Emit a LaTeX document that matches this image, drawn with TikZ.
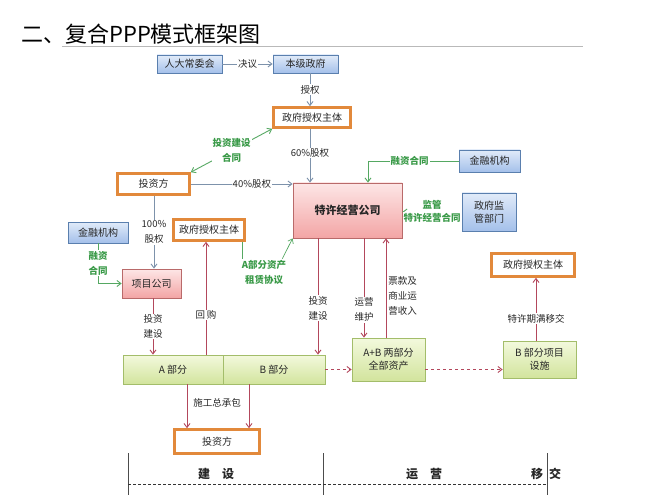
\documentclass[tikz,border=0pt]{standalone}
\usepackage{fontspec}
\setmainfont{Noto Sans CJK SC}
\usetikzlibrary{arrows.meta}
\definecolor{blueedge}{HTML}{5A7FAE}
\definecolor{bluetop}{HTML}{E1EBF9}
\definecolor{bluebot}{HTML}{A4C0EA}
\definecolor{orgedge}{HTML}{E2893B}
\definecolor{pinkedge}{HTML}{B96A6A}
\definecolor{pinktop}{HTML}{FDE6E6}
\definecolor{pinkbot}{HTML}{F3A5A5}
\definecolor{grnedge}{HTML}{A3BD6A}
\definecolor{grntop}{HTML}{F3F9DD}
\definecolor{grnbot}{HTML}{D2E49D}
\definecolor{eqline}{HTML}{7D92AB}
\definecolor{invline}{HTML}{B3475C}
\definecolor{conline}{HTML}{55A862}
\definecolor{congreen}{HTML}{3A9A48}
\tikzset{
  box/.style={inner sep=1pt, align=center, text=black!85, font=\fontsize{10}{13}\selectfont},
  bluebox/.style={box, draw=blueedge, top color=bluetop, bottom color=bluebot, line width=0.8pt},
  orgbox/.style={box, draw=orgedge, fill=white, line width=2.6pt},
  pinkbox/.style={box, draw=pinkedge, top color=pinktop, bottom color=pinkbot, line width=0.8pt},
  grnbox/.style={box, draw=grnedge, top color=grntop, bottom color=grnbot, line width=0.8pt},
  barb/.style={-{Straight Barb[length=4pt,width=6pt]}},
  eqarr/.style={barb, draw=eqline, line width=0.9pt},
  invarr/.style={barb, draw=invline, line width=0.9pt},
  conarr/.style={barb, draw=conline, line width=0.9pt},
  lab/.style={font=\fontsize{9.5}{15}\selectfont, align=center, inner sep=1pt, fill=white, text=black!85},
  glab/.style={lab, text=congreen, font=\fontsize{9.5}{15}\selectfont\bfseries},
  phase/.style={font=\fontsize{12}{14}\selectfont\bfseries, text=black!85}
}

\begin{document}
\begin{tikzpicture}[x=1pt, y=-1pt]
  \useasboundingbox[fill=white] (0,0) rectangle (667,500);
  \node[font=\fontsize{22}{26}\selectfont, anchor=west, inner sep=0pt] (title) at (21,34) {二、复合PPP模式框架图};
  \draw[gray!55, line width=1pt] (62,47) -- (583,47);

  \node[bluebox, minimum width=65pt, minimum height=18pt] (rd) at (189.5,64) {人大常委会};
  \node[bluebox, minimum width=65pt, minimum height=18pt] (bj) at (305.5,64) {本级政府};
  \node[orgbox, minimum width=77pt, minimum height=20pt] (zf1) at (312,117.5) {政府授权主体};
  \node[orgbox, minimum width=72pt, minimum height=21pt] (tz1) at (153.5,184) {投资方};
  \node[pinkbox, minimum width=109pt, minimum height=55pt, font=\fontsize{11}{13}\selectfont\bfseries] (tx) at (347.5,210.5) {特许经营公司};
  \node[bluebox, minimum width=61pt, minimum height=22pt] (jr1) at (489.5,161) {金融机构};
  \node[bluebox, minimum width=54pt, minimum height=38pt] (jg) at (489,212) {政府监\\管部门};
  \node[bluebox, minimum width=60pt, minimum height=21pt] (jr2) at (98,232.5) {金融机构};
  \node[orgbox, minimum width=71pt, minimum height=21pt] (zf2) at (209,230) {政府授权主体};
  \node[pinkbox, minimum width=59pt, minimum height=29pt] (xm) at (151.5,283.5) {项目公司};
  \node[grnbox, minimum width=100pt, minimum height=29pt] (pa) at (173,369.5) {A 部分};
  \node[grnbox, minimum width=102pt, minimum height=29pt] (pb) at (274,369.5) {B 部分};
  \node[grnbox, minimum width=73pt, minimum height=43pt] (qb) at (388.5,359.5) {A+B 两部分\\全部资产};
  \node[grnbox, minimum width=73pt, minimum height=37pt] (bs) at (539.5,359.5) {B 部分项目\\设施};
  \node[orgbox, minimum width=83pt, minimum height=23pt] (zf3) at (533,265) {政府授权主体};
  \node[orgbox, minimum width=85pt, minimum height=24pt] (tz2) at (217,441.5) {投资方};

  \draw[eqarr] (rd) -- node[lab]{决议} (bj);
  \draw[eqarr] ([xshift=4.5pt]bj.south) -- node[lab]{授权} ([xshift=-2pt]zf1.north);
  \draw[eqarr] ([xshift=-2pt]zf1.south) -- node[lab, pos=0.45]{60\%股权} ([xshift=-37.5pt]tx.north);
  \draw[conarr, {Straight Barb[length=4pt,width=6pt]}-{Straight Barb[length=4pt,width=6pt]}] (tz1.north east) -- node[glab]{投资建设\\合同} (zf1.south west);
  \draw[eqarr] (tz1.east) -- node[lab, pos=0.6]{40\%股权} (tz1.east -| tx.west);
  \draw[conarr] (jr1.west) -| node[glab, pos=0.27]{融资合同} ([xshift=20.5pt]tx.north);
  \draw[conarr] (jg.west) -- node[glab, above=1pt]{监管} node[glab, below=0pt]{特许经营合同} (jg.west -| tx.east);
  \draw[conarr] (jr2.south) |- node[glab, pos=0.25]{融资\\合同} (xm.west);
  \draw[eqarr] ([xshift=0.5pt]tz1.south) -- node[lab]{100\%\\股权} ([xshift=2.5pt]xm.north);

  \node[glab, fill=none] (zl) at (264,272) {A部分资产\\租赁协议};
  \draw[draw=conline, line width=0.9pt] ([xshift=33pt]zf2.south) -- ([xshift=33pt]zf2.south |- zl.north);
  \draw[conarr, line width=0.7pt] ([xshift=-5pt]zl.north east) -- (tx.south west);

  \draw[invarr] ([xshift=1.5pt]xm.south) -- node[lab]{投资\\建设} ([xshift=-20pt]pa.north);
  \draw[invarr] ([xshift=33pt]pa.north) -- node[lab, pos=0.35]{回\,购} ([xshift=-3pt]zf2.south);
  \draw[invarr] ([xshift=-29.5pt]tx.south) -- node[lab, pos=0.6]{投资\\建设} ([xshift=44pt]pb.north);
  \draw[invarr] ([xshift=16.5pt]tx.south) -- node[lab, pos=0.72]{运营\\维护} ([xshift=-24.5pt]qb.north);
  \draw[invarr] ([xshift=-2.5pt]qb.north) -- node[lab, fill=none, anchor=west, xshift=1pt, pos=0.42]{票款及\\商业运\\营收入} ([xshift=38.5pt]tx.south);
  \draw[invarr, dashed] (pb.east) -- (pb.east -| qb.west);
  \draw[invarr, dashed] ([yshift=-10pt]qb.east) -- ([yshift=-10pt]qb.east -| bs.west);
  \draw[invarr] ([xshift=-3.5pt]bs.north) -- node[lab, pos=0.35]{特许期满移交} ([xshift=3pt]zf3.south);
  \draw[invarr] ([xshift=14pt]pa.south) -- ([xshift=-30pt]tz2.north);
  \draw[invarr] ([xshift=-25pt]pb.south) -- ([xshift=32pt]tz2.north);
  \node[lab, fill=none] (sg) at (217,403) {施工总承包};

  % time line
  \draw[black!70, line width=1pt] (128,453) -- (128,495) (323,453) -- (323,495) (547,453) -- (547,495);
  \draw[black!80, line width=1pt, dash pattern=on 3pt off 2pt] (128,484) -- (547,484);
  \node[phase] (js) at (216,474) {建\hspace{1em}设};
  \node[phase] (yy) at (424,474) {运\hspace{1em}营};
  \node[phase] (yj) at (546,474) {移\hspace{0.5em}交};
\end{tikzpicture}
\end{document}
